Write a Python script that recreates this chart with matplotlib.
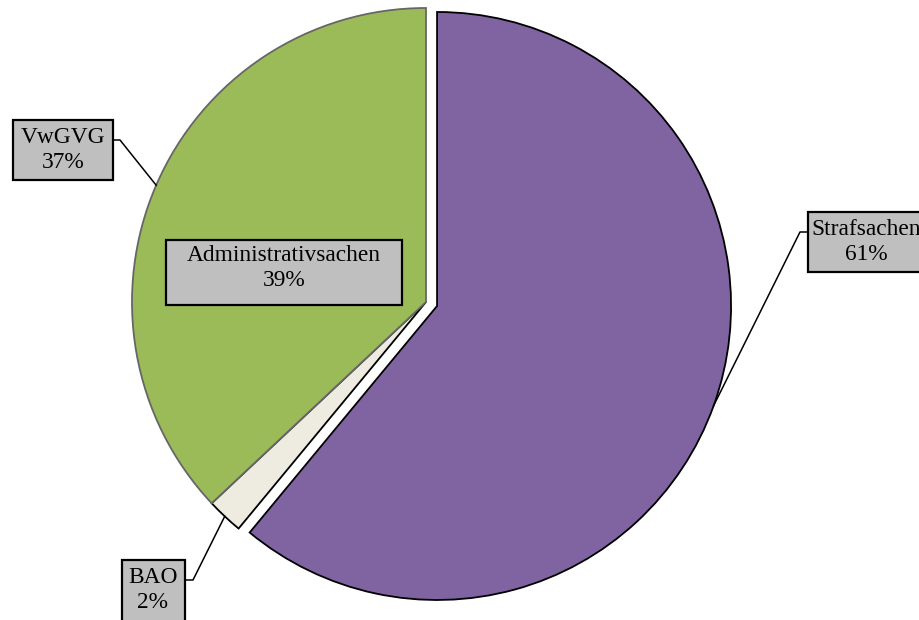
import numpy as np
import matplotlib
matplotlib.use("Agg")
import matplotlib.pyplot as plt
from matplotlib.patches import Rectangle

labels = ["Strafsachen", "BAO", "VwGVG"]
values = [61, 2, 37]
colors = ["#8064A2", "#EEECE1", "#9BBB59"]
edgecolors = ["black", "black", "#666666"]
explode_frac = [0.04, 0, 0]
group_label = "Administrativsachen"
group_value = 39

W, H = 920, 620
fig = plt.figure(figsize=(W / 100, H / 100), dpi=100)
ax = fig.add_axes([0, 0, 1, 1])

cx, cy, R = 426, H - 302, 294
wedges, _ = ax.pie(values, colors=colors, explode=[e * R for e in explode_frac],
                   startangle=90, counterclock=False, center=(cx, cy), radius=R,
                   wedgeprops=dict(linewidth=1.3), frame=True)
for w, ec in zip(wedges, edgecolors):
    w.set_edgecolor(ec)
ax.set_xlim(0, W)
ax.set_ylim(0, H)
ax.set_aspect("equal")
ax.axis("off")

font = dict(family="Liberation Serif", fontsize=16.8, color="black")

# box (x0, y0, x1, y1) in pixel coords (y down), text centre, elbow, line end
label_layout = {
    "Strafsachen": ((808, 212, 926, 272), (866, 242), (800, 232), (808, 232)),
    "BAO": ((122, 560, 185, 622), (153, 590), (193, 580), (185, 580)),
    "VwGVG": ((13, 120, 113, 180), (63, 150), (120, 140), (113, 140)),
}


def draw_box(x0, y0, x1, y1):
    ax.add_patch(Rectangle((x0, H - y1), x1 - x0, y1 - y0, fc="#BFBFBF",
                           ec="black", lw=1.6, zorder=4, clip_on=False))


for w, lab, v in zip(wedges, labels, values):
    t = np.deg2rad((w.theta1 + w.theta2) / 2)
    wx, wy = w.center
    px = wx + w.r * np.cos(t)
    py = wy + w.r * np.sin(t)
    (x0, y0, x1, y1), (tx, ty), (ex, ey), (bx, by) = label_layout[lab]
    ax.plot([px, ex, bx], [py, H - ey, H - by], color="black", lw=1.1, zorder=3)
    draw_box(x0, y0, x1, y1)
    ax.text(tx, H - ty, f"{lab}\n{v}%", ha="center", va="center",
            linespacing=1.2, zorder=5, **font)

draw_box(166, 240, 402, 305)
ax.text(284, H - 268, f"{group_label}\n{group_value}%", ha="center", va="center",
        linespacing=1.2, zorder=5, **font)

fig.savefig("out.png", dpi=100)
